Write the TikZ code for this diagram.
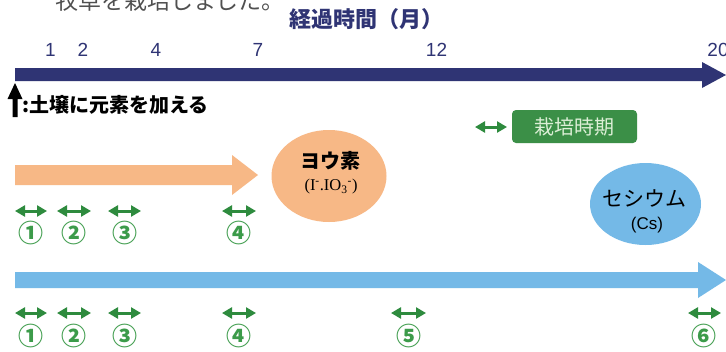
\documentclass[tikz,border=0pt]{standalone}
\usepackage{fontspec}
\setmainfont{Liberation Sans}
\newfontfamily\jp{Noto Sans CJK JP}
\newfontfamily\serifx{Liberation Serif}
\usetikzlibrary{arrows.meta,shapes.geometric}
\definecolor{navy}{HTML}{2F3474}
\definecolor{orangeA}{HTML}{F7B886}
\definecolor{blueA}{HTML}{74B9E7}
\definecolor{arrgreen}{HTML}{2E8B3E}
\definecolor{numgreen}{HTML}{3C9B4A}
\definecolor{boxgreen}{HTML}{3B8F47}
\definecolor{boxtext}{HTML}{DCEFD6}
\definecolor{introgray}{HTML}{505050}
\tikzset{
  txt/.style={inner sep=0pt, outer sep=0pt},
  tick/.style={txt, text=navy, font=\fontsize{19}{19}\selectfont},
  dbl/.style={draw=arrgreen, line width=3pt, {Triangle[length=10pt,width=11pt]}-{Triangle[length=10pt,width=11pt]}},
  cnum/.style={txt, text=numgreen, font=\jp\bfseries\fontsize{25}{25}\selectfont},
  bubble/.style={ellipse, inner sep=0pt, draw=none},
}
\begin{document}
\begin{tikzpicture}[x=1pt,y=-1pt]
\useasboundingbox (0,0) rectangle (726,351);
\clip (0,0) rectangle (726,351);
\fill[white] (0,0) rectangle (726,351);

% partially visible intro line
\node[txt, anchor=base west, text=introgray, font=\jp\fontsize{23}{23}\selectfont] (intro) at (55,9) {牧草を栽培しました。};

% title
\node[txt, text=navy, font=\jp\bfseries\fontsize{22}{22}\selectfont] (title) at (366,19) {経過時間（月）};

% month ticks
\node[tick] (m1) at (50.5,50) {1};
\node[tick] (m2) at (83,50) {2};
\node[tick] (m4) at (156,50) {4};
\node[tick] (m7) at (258,50) {7};
\node[tick] (m12) at (436.5,50) {12};
\node[tick] (m20) at (718,50) {20};

% navy time arrow
\fill[navy] (15,68) -- (702,68) -- (702,62) -- (726,75) -- (702,88) -- (702,81) -- (15,81) -- cycle;

% black arrow legend
\fill[black] (12.5,117) -- (12.5,99) -- (7.5,99) -- (15,83) -- (22.5,99) -- (17.5,99) -- (17.5,117) -- cycle;
\node[txt, anchor=west, font=\jp\bfseries\fontsize{20}{20}\selectfont] (note) at (22,104.5) {:土壌に元素を加える};

% cultivation period legend
\draw[dbl] (475,127) -- (507,127);
\node[fill=boxgreen, rounded corners=4pt, minimum width=125pt, minimum height=33pt, inner sep=0pt, text=boxtext, font=\jp\fontsize{20}{20}\selectfont] (period) at (574.5,126.5) {栽培時期};

% iodine
\fill[orangeA] (15,165) -- (232,165) -- (232,155) -- (258,175) -- (232,195) -- (232,185) -- (15,185) -- cycle;
\node[bubble, fill=orangeA, minimum width=115pt, minimum height=92pt] (iodine) at (329,176) {};
\node[txt, font=\jp\bfseries\fontsize{20}{20}\selectfont] (iodname) at (330,161) {ヨウ素};
\node[txt, font=\serifx\fontsize{16.5}{16.5}\selectfont] (iodform) at (331,187) {(I\textsuperscript{-}.IO\textsubscript{3}\textsuperscript{-})};

\draw[dbl] (15,211) -- (47,211);
\draw[dbl] (57,211) -- (91,211);
\draw[dbl] (108,211) -- (141,211);
\draw[dbl] (222,211) -- (256,211);
\node[cnum] (a1) at (31,233) {①};
\node[cnum] (a2) at (74,233) {②};
\node[cnum] (a3) at (124.5,233) {③};
\node[cnum] (a4) at (239,233) {④};

% cesium
\node[bubble, fill=blueA, minimum width=111pt, minimum height=82pt] (cesium) at (645.5,204) {};
\node[txt, font=\jp\fontsize{21}{21}\selectfont] (csname) at (644,198) {セシウム};
\node[txt, font=\fontsize{17}{17}\selectfont] (csform) at (647,225) {(Cs)};

\fill[blueA] (15,272) -- (698,272) -- (698,262) -- (726,280) -- (698,298) -- (698,288) -- (15,288) -- cycle;

\draw[dbl] (15,313) -- (47,313);
\draw[dbl] (57,313) -- (91,313);
\draw[dbl] (108,313) -- (141,313);
\draw[dbl] (222,313) -- (256,313);
\draw[dbl] (391,313) -- (426,313);
\draw[dbl] (688,313) -- (721,313);
\node[cnum] (b1) at (31,336) {①};
\node[cnum] (b2) at (74,336) {②};
\node[cnum] (b3) at (124.5,336) {③};
\node[cnum] (b4) at (239,336) {④};
\node[cnum] (b5) at (408.5,336) {⑤};
\node[cnum] (b6) at (704,336) {⑥};
\end{tikzpicture}
\end{document}
